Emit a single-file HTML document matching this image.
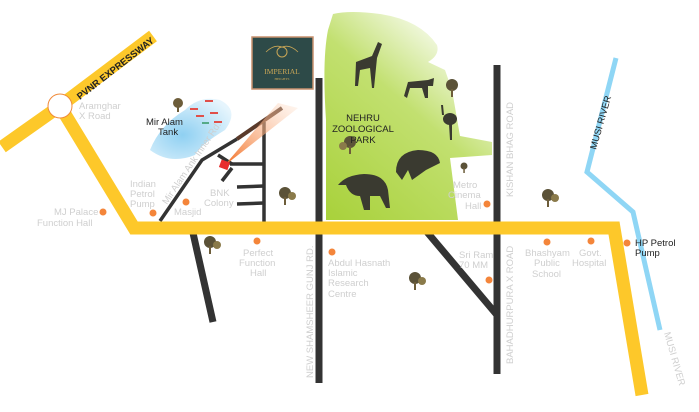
<!DOCTYPE html>
<html><head><meta charset="utf-8"><style>
html,body{margin:0;padding:0;background:#fff;}
svg{display:block;font-family:"Liberation Sans",sans-serif;}
.g{fill:#cfcfcf;font-size:9.5px;}
.d{fill:#222;font-size:9.5px;}
</style></head><body>
<svg width="699" height="412" viewBox="0 0 699 412" xmlns="http://www.w3.org/2000/svg">
<defs>
<linearGradient id="gr" x1="0" y1="1" x2="0.7" y2="0">
<stop offset="0" stop-color="#a8d13a"/><stop offset="0.6" stop-color="#c2e070"/><stop offset="1" stop-color="#ffffff"/>
</linearGradient>
<linearGradient id="beam" x1="0" y1="1" x2="1" y2="0">
<stop offset="0" stop-color="#f26b1d"/><stop offset="1" stop-color="#fde2cf" stop-opacity="0.3"/>
</linearGradient>
<radialGradient id="lake" cx="0.4" cy="0.6" r="0.7">
<stop offset="0" stop-color="#8fd0f2"/><stop offset="1" stop-color="#e6f5fd"/>
</radialGradient>
</defs>
<!-- park -->
<path d="M333,14 Q350,10 380,14 Q420,20 437,45 Q440,55 428,62 L445,70 L452,90 L460,136 L492,142 L492,155 L450,158 L458,220 L326,220 L326,120 Q322,60 328,30 Z" fill="url(#gr)"/>
<!-- lake -->
<path d="M150,150 Q160,125 185,110 Q200,95 220,100 Q240,110 225,130 Q200,145 195,155 Q170,165 150,150 Z" fill="url(#lake)"/>
<g fill="#e0504a"><rect x="205" y="100" width="8" height="2"/><rect x="190" y="108" width="8" height="2"/><rect x="210" y="112" width="8" height="2"/><rect x="196" y="115" width="8" height="2"/><rect x="214" y="121" width="8" height="2"/><rect x="202" y="122" width="7" height="2" fill="#5a8"/></g>
<!-- roads black -->
<g stroke="#333" stroke-width="7" fill="none">
<line x1="319" y1="78" x2="319" y2="383"/>
<line x1="497" y1="65" x2="497" y2="374"/>
<line x1="427" y1="232" x2="497" y2="315"/>
<line x1="193" y1="233" x2="213" y2="322"/>
</g>
<g stroke="#333" stroke-width="3.5" fill="none">
<polyline points="160,221 202,160 237,139"/>
<line x1="264" y1="122" x2="264" y2="222"/>
<line x1="218" y1="155" x2="232" y2="164"/>
<line x1="230" y1="164" x2="264" y2="164"/>
<line x1="237" y1="187" x2="264" y2="186"/>
<line x1="237" y1="204" x2="264" y2="203"/>
<line x1="222" y1="181" x2="232" y2="168"/>
</g>
<line x1="237" y1="139" x2="282" y2="108" stroke="#5a3a2a" stroke-width="4"/>
<!-- beam -->
<polygon points="224,166 278,103 298,108" fill="url(#beam)"/>
<rect x="220" y="161" width="9" height="8" fill="#e82c2c" transform="rotate(20 225 165)"/>
<!-- yellow roads -->
<g stroke="#fdc82a" stroke-width="13" fill="none" stroke-linejoin="miter">
<polyline points="2,147 60,106 153,36"/>
<polyline points="60,106 134,228 614,228 642,395"/>
</g>
<circle cx="60" cy="106" r="12" fill="#fff" stroke="#f08a3a" stroke-width="1"/>
<text x="0" y="0" font-size="9.5" font-weight="bold" fill="#222" transform="translate(80,100) rotate(-38)">PVNR EXPRESSWAY</text>
<!-- river -->
<polyline points="616,58 587,172 633,212 660,330" stroke="#8fd6f5" stroke-width="5" fill="none"/>
<!-- logo -->
<rect x="252" y="37" width="61" height="52" fill="#2d4a48" stroke="#c8916e" stroke-width="1.5"/>
<circle cx="282" cy="52" r="5" fill="none" stroke="#c9a656" stroke-width="1"/>
<path d="M266,52 Q274,44 282,47 Q290,44 298,52" fill="none" stroke="#c9a656" stroke-width="0.8"/>
<text x="282" y="74" font-family="Liberation Serif,serif" font-size="7.5" fill="#c9a656" text-anchor="middle">IMPERIAL</text>
<text x="282" y="80" font-family="Liberation Serif,serif" font-size="3.5" fill="#c9a656" text-anchor="middle">HEIGHTS</text>
<!-- trees -->
<g>
<g transform="translate(178,103)"><circle r="5" fill="#6d5d3a"/><rect x="-1" y="3" width="2" height="6" fill="#6d5d3a"/></g>
<g transform="translate(285,193)"><circle r="6" fill="#5b5238"/><circle cx="7" cy="3" r="4" fill="#8a7a4a"/><rect x="-1" y="4" width="2" height="8" fill="#6d5d3a"/></g>
<g transform="translate(210,242)"><circle r="6" fill="#5b5238"/><circle cx="7" cy="3" r="4" fill="#8a7a4a"/><rect x="-1" y="4" width="2" height="8" fill="#6d5d3a"/></g>
<g transform="translate(415,278)"><circle r="6" fill="#5b5238"/><circle cx="7" cy="3" r="4" fill="#8a7a4a"/><rect x="-1" y="4" width="2" height="8" fill="#6d5d3a"/></g>
<g transform="translate(548,195)"><circle r="6" fill="#5b5238"/><circle cx="7" cy="3" r="4" fill="#8a7a4a"/><rect x="-1" y="4" width="2" height="8" fill="#6d5d3a"/></g>
<g transform="translate(452,85)"><circle r="6" fill="#5b5238"/><rect x="-1" y="4" width="2" height="8" fill="#6d5d3a"/></g>
<g transform="translate(350,142)"><circle r="6" fill="#5b5238"/><circle cx="-7" cy="4" r="4" fill="#8a7a4a"/><rect x="-1" y="4" width="2" height="8" fill="#6d5d3a"/></g>
<g transform="translate(464,166)"><circle r="3.5" fill="#5b5238"/><rect x="-0.7" y="2" width="1.5" height="5" fill="#6d5d3a"/></g>
</g>
<!-- animals -->
<g fill="#3a3a30">
<path d="M355,86 L356,62 L372,56 L378,42 L382,44 L377,58 L374,88 L372,88 L370,68 L360,70 L358,86 Z"/>
<path d="M404,96 L408,82 L428,80 L434,78 L433,86 L428,86 L428,98 L425,98 L422,88 L410,88 L407,98 Z"/>
<ellipse cx="450" cy="119" rx="7" ry="6"/><path d="M441,105 L443,105 L444,115 L442,115 Z M449,124 L450,140 L452,140 L452,124 Z"/>
<path d="M396,172 Q396,152 418,150 Q438,150 440,163 L426,170 L412,180 L408,170 L402,180 Z"/>
<path d="M338,185 Q346,175 364,174 Q385,174 388,190 L390,208 L386,208 L380,196 L370,196 L370,210 L364,210 L360,196 Q350,196 346,185 Z"/>
</g>
<text x="363" y="121" class="d" font-size="9" text-anchor="middle">NEHRU</text>
<text x="363" y="132" class="d" font-size="9" text-anchor="middle">ZOOLOGICAL</text>
<text x="363" y="143" class="d" font-size="9" text-anchor="middle">PARK</text>
<!-- dots -->
<g fill="#f4853a">
<circle cx="103" cy="212" r="3.5"/><circle cx="153" cy="213" r="3.5"/><circle cx="186" cy="202" r="3.5"/>
<circle cx="257" cy="241" r="3.5"/><circle cx="332" cy="252" r="3.5"/><circle cx="487" cy="204" r="3.5"/>
<circle cx="489" cy="280" r="3.5"/><circle cx="547" cy="242" r="3.5"/><circle cx="591" cy="241" r="3.5"/><circle cx="627" cy="243" r="3.5"/>
</g>
<!-- labels -->
<text class="g" x="79" y="109">Aramghar</text><text class="g" x="79" y="119">X Road</text>
<text class="d" x="146" y="125">Mir Alam</text><text class="d" x="158" y="135">Tank</text>
<text class="g" transform="translate(167,205) rotate(-56)" font-size="8.5">Mir Alam Ank Inner Rd.</text>
<text class="g" x="130" y="187">Indian</text><text class="g" x="130" y="197">Petrol</text><text class="g" x="130" y="207">Pump</text>
<text class="g" x="174" y="215">Masjid</text>
<text class="g" x="210" y="196">BNK</text><text class="g" x="204" y="206">Colony</text>
<text class="g" x="54" y="215">MJ Palace</text><text class="g" x="37" y="226">Function Hall</text>
<text class="g" x="243" y="256">Perfect</text><text class="g" x="239" y="266">Function</text><text class="g" x="250" y="276">Hall</text>
<text class="g" x="328" y="266">Abdul Hasnath</text><text class="g" x="328" y="276">Islamic</text><text class="g" x="328" y="286">Research</text><text class="g" x="328" y="297">Centre</text>
<text class="g" x="453" y="188">Metro</text><text class="g" x="448" y="198">Cinema</text><text class="g" x="465" y="209">Hall</text>
<text class="g" x="459" y="258">Sri Ram</text><text class="g" x="459" y="268">70 MM</text>
<text class="g" x="525" y="256">Bhashyam</text><text class="g" x="534" y="266">Public</text><text class="g" x="532" y="277">School</text>
<text class="g" x="579" y="256">Govt.</text><text class="g" x="572" y="266">Hospital</text>
<text class="d" x="635" y="246">HP Petrol</text><text class="d" x="635" y="256">Pump</text>
<text class="g" transform="translate(313,378) rotate(-90)">NEW SHAMSHEER GUNJ RD.</text>
<text class="g" transform="translate(513,197) rotate(-90)">KISHAN BHAG ROAD</text>
<text class="g" transform="translate(513,364) rotate(-90)">BAHADHURPURA X ROAD</text>
<text class="d" transform="translate(596,150) rotate(-74)" font-size="8.5">MUSI RIVER</text>
<text class="g" transform="translate(664,333) rotate(74)" font-size="8.5">MUSI RIVER</text>
</svg>
</body></html>
